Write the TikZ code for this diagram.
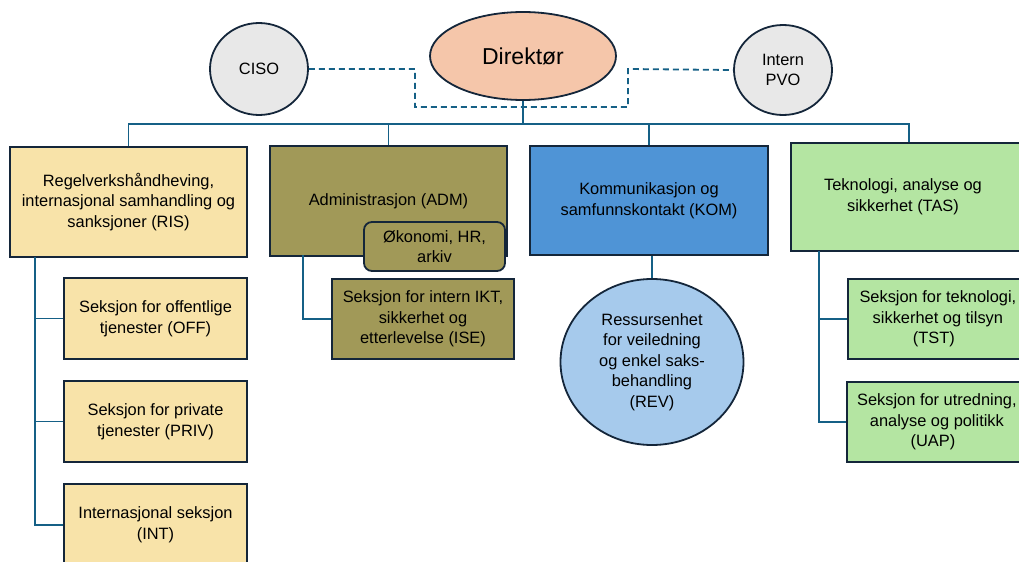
\documentclass[tikz,border=0pt]{standalone}
\usepackage{fontspec}
\setmainfont{Liberation Sans}
\usepackage{tikz}
\usetikzlibrary{positioning, shapes.geometric}
\definecolor{linjeblaa}{RGB}{21,96,134}
\definecolor{kantmork}{RGB}{20,38,58}
\definecolor{direktorfarge}{RGB}{245,198,170}
\definecolor{gralys}{RGB}{232,232,232}
\definecolor{risgul}{RGB}{248,227,169}
\definecolor{admoliven}{RGB}{161,153,88}
\definecolor{komblaa}{RGB}{79,148,214}
\definecolor{revblaa}{RGB}{166,202,236}
\definecolor{tasgronn}{RGB}{180,229,162}

\begin{document}
\begin{tikzpicture}[
  x=0.5pt,y=-0.5pt,
  boks/.style={draw=kantmork,line width=0.9pt,rectangle,inner sep=2pt,align=center,
               font=\fontsize{8.2}{10.3}\selectfont},
  rund/.style={draw=kantmork,line width=0.9pt,ellipse,inner sep=0pt,align=center,
               font=\fontsize{8.2}{10.3}\selectfont},
  linje/.style={draw=linjeblaa,line width=0.9pt},
  stiplet/.style={draw=linjeblaa,line width=0.9pt,dash pattern=on 3pt off 2pt}
]
\clip (0,0) rectangle (1019,562);

% Toppen
\node[rund,fill=direktorfarge,minimum width=93pt,minimum height=44pt,
      font=\fontsize{11.5}{13}\selectfont] (dir) at (523,56) {Direktør};
\node[rund,fill=gralys,minimum width=49pt,minimum height=46pt] (ciso) at (259,69) {CISO};
\node[rund,fill=gralys,minimum width=49pt,minimum height=45pt] (pvo) at (783,70) {Intern\\PVO};

\draw[stiplet] (ciso.east) -| (415,107) -| (628,69) -- (pvo.west);

% Avdelinger
\node[boks,fill=risgul,minimum width=118.5pt,minimum height=55pt] (ris) at (128.5,202)
  {Regelverkshåndheving,\\internasjonal samhandling og\\sanksjoner (RIS)};
\node[boks,fill=admoliven,minimum width=118.5pt,minimum height=55pt] (adm) at (388.5,201)
  {Administrasjon (ADM)};
\node[boks,fill=komblaa,minimum width=119pt,minimum height=54.5pt] (kom) at (649,200.5)
  {Kommunikasjon og\\samfunnskontakt (KOM)};
\node[boks,fill=tasgronn,minimum width=118pt,minimum height=54pt] (tas) at (909,197)
  {Teknologi, analyse og\hspace*{6pt}\\sikkerhet (TAS)\hspace*{6pt}};

\node[boks,fill=admoliven,rounded corners=4pt,minimum width=70.5pt,minimum height=24.5pt]
  (okon) at (434.5,246.5) {Økonomi, HR,\\arkiv};

% Linjer fra direktør
\coordinate (bar) at (523,124);
\draw[linje] (dir.south) -- (bar);
\foreach \avd in {ris,adm,kom,tas} {
  \draw[linje] (\avd.north) |- (bar);
}

% Seksjoner under RIS
\node[boks,fill=risgul,minimum width=91.5pt,minimum height=40.5pt] (off) at (155.5,318.5)
  {Seksjon for offentlige\\tjenester (OFF)};
\node[boks,fill=risgul,minimum width=91.5pt,minimum height=40.5pt] (priv) at (155.5,421.5)
  {Seksjon for private\\tjenester (PRIV)};
\node[boks,fill=risgul,minimum width=91.5pt,minimum height=41pt] (int) at (155.5,525)
  {Internasjonal seksjon\\(INT)};
\coordinate (risstamme) at (35,257);
\draw[linje] (risstamme) |- (int.west);
\foreach \sek in {off,priv} {
  \draw[linje] (risstamme |- \sek.west) -- (\sek.west);
}

% Seksjon under ADM
\node[boks,fill=admoliven,minimum width=91pt,minimum height=40pt] (ise) at (423,319)
  {Seksjon for intern IKT,\\sikkerhet og\\etterlevelse (ISE)};
\coordinate (admstamme) at (303,255);
\draw[linje] (admstamme) |- (ise.west);

% Enhet under KOM
\node[rund,fill=revblaa,minimum width=91.5pt,minimum height=83pt] (rev) at (652,362)
  {Ressursenhet\\for veiledning\\og enkel saks-\\behandling\\(REV)};
\draw[linje] (kom.south -| rev.north) -- (rev.north);

% Seksjoner under TAS
\node[boks,fill=tasgronn,minimum width=90pt,minimum height=40pt,anchor=west] (tst) at (847,319)
  {Seksjon for teknologi,\\sikkerhet og tilsyn\\(TST)\hspace*{4pt}};
\node[boks,fill=tasgronn,minimum width=90pt,minimum height=40pt,anchor=west] (uap) at (846,422)
  {Seksjon for utredning,\\analyse og politikk\\(UAP)\hspace*{4pt}};
\coordinate (tasstamme) at (819,251);
\draw[linje] (tasstamme) |- (uap.west);
\draw[linje] (tasstamme |- tst.west) -- (tst.west);

\end{tikzpicture}
\end{document}
